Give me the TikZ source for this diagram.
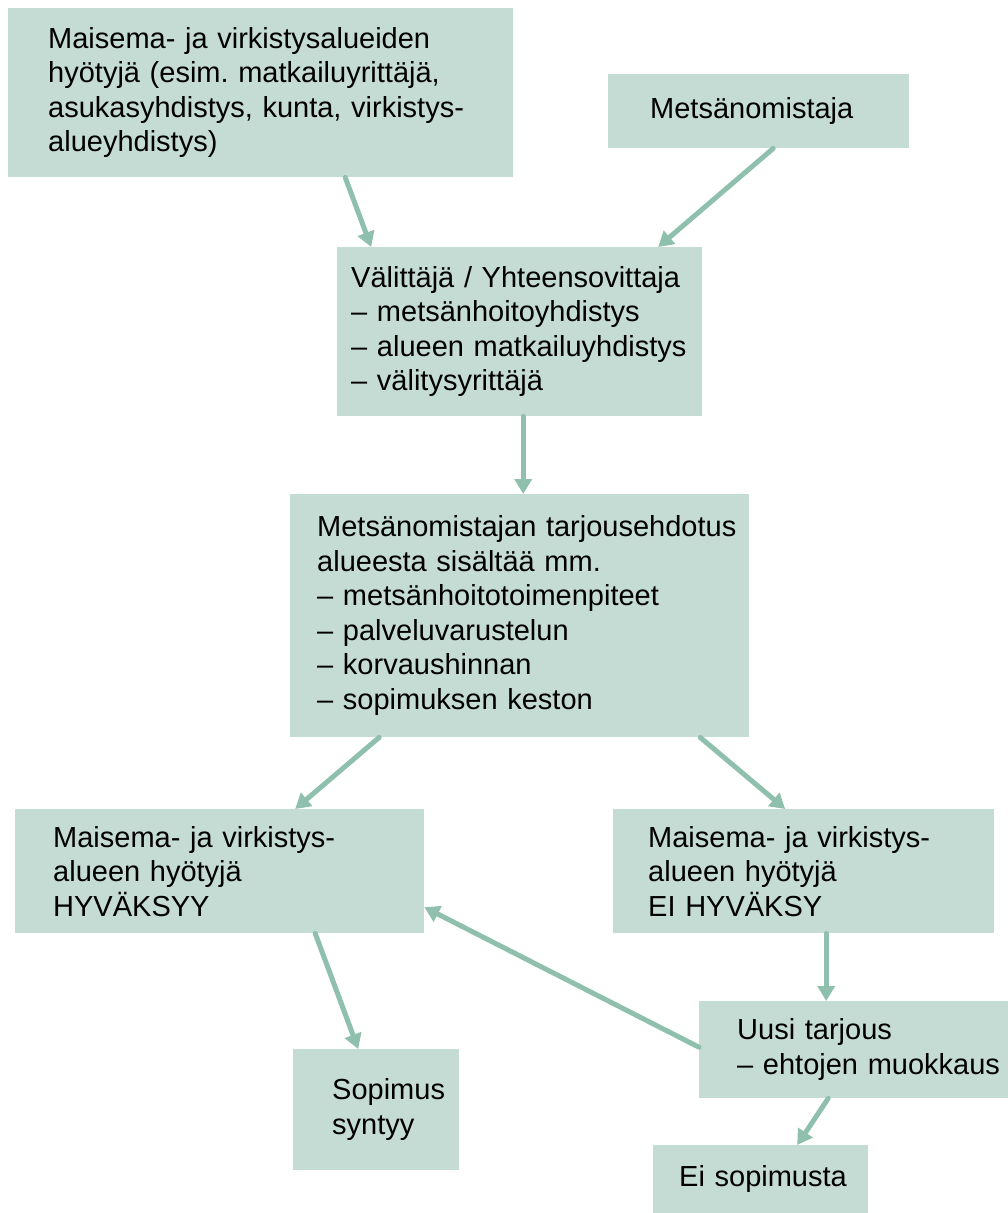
\documentclass[tikz,border=0pt]{standalone}
\usepackage{fontspec}
\setmainfont{Liberation Sans}
\usetikzlibrary{arrows.meta}
\definecolor{boxfill}{HTML}{C5DCD4}
\definecolor{flowcol}{HTML}{8FC0AE}
\frenchspacing

\begin{document}
\begin{tikzpicture}[x=1pt, y=-1pt, line cap=round, line join=round,
  box/.style n args={4}{fill=boxfill, anchor=north west, inner xsep=0pt, inner ysep=0pt,
    align=left, text width=#1pt, minimum height=#2pt,
    execute at begin node={\leftskip=#3pt}, font=\fontsize{29}{34.5}\selectfont},
  flow/.style={draw=flowcol, line width=5pt, -{Triangle[length=15pt,width=17pt]}}]

\useasboundingbox (0,0) rectangle (1008,1213);

\node[box={505}{169}{40}{}] (hyotyja) at (8,8) {Maisema- ja virkistysalueiden\\hyötyjä (esim. matkailuyrittäjä,\\asukasyhdistys, kunta, virkistys-\\alueyhdistys)};
\node[box={301}{74}{42}{}] (omistaja) at (608,74) {Metsänomistaja};
\node[box={365}{169}{14}{}] (valittaja) at (337,247) {Välittäjä / Yhteensovittaja\\– metsänhoitoyhdistys\\– alueen matkailuyhdistys\\– välitysyrittäjä};
\node[box={459}{243}{27}{}] (tarjous) at (290,494) {Metsänomistajan tarjousehdotus\\alueesta sisältää mm.\\– metsänhoitotoimenpiteet\\– palveluvarustelun\\– korvaushinnan\\– sopimuksen keston};
\node[box={409}{124}{38}{}] (hyvaksyy) at (15,809) {Maisema- ja virkistys-\\alueen hyötyjä\\HYVÄKSYY};
\node[box={381}{124}{35}{}] (eihyvaksy) at (613,809) {Maisema- ja virkistys-\\alueen hyötyjä\\EI HYVÄKSY};
\node[box={309}{97}{38}{}] (uusi) at (699,1001) {Uusi tarjous\\– ehtojen muokkaus};
\node[box={166}{121}{39}{}] (sopimus) at (293,1049) {Sopimus\\syntyy};
\node[box={215}{68}{26}{}] (eisopimusta) at (653,1145) {Ei sopimusta};

\draw[flow] ([xshift=84.5pt]hyotyja.south) -- ([xshift=-148.5pt]valittaja.north);
\draw[flow] ([xshift=14.5pt]omistaja.south) -- ([xshift=138.5pt]valittaja.north);
\draw[flow] ([xshift=3.5pt]valittaja.south) -- ([xshift=3.5pt]tarjous.north);
\draw[flow] ([xshift=-140.5pt]tarjous.south) -- ([xshift=75.5pt]hyvaksyy.north);
\draw[flow] ([xshift=180.5pt]tarjous.south) -- ([xshift=-18.5pt]eihyvaksy.north);
\draw[flow] ([xshift=95.5pt]hyvaksyy.south) -- ([xshift=-18pt]sopimus.north);
\draw[flow] ([xshift=22.5pt]eihyvaksy.south) -- ([xshift=-27.5pt]uusi.north);
\draw[flow] ([yshift=2.5pt]uusi.west) -- ([yshift=-36pt]hyvaksyy.east);
\draw[flow] ([xshift=-25.5pt]uusi.south) -- ([xshift=36.5pt]eisopimusta.north);

\end{tikzpicture}
\end{document}
